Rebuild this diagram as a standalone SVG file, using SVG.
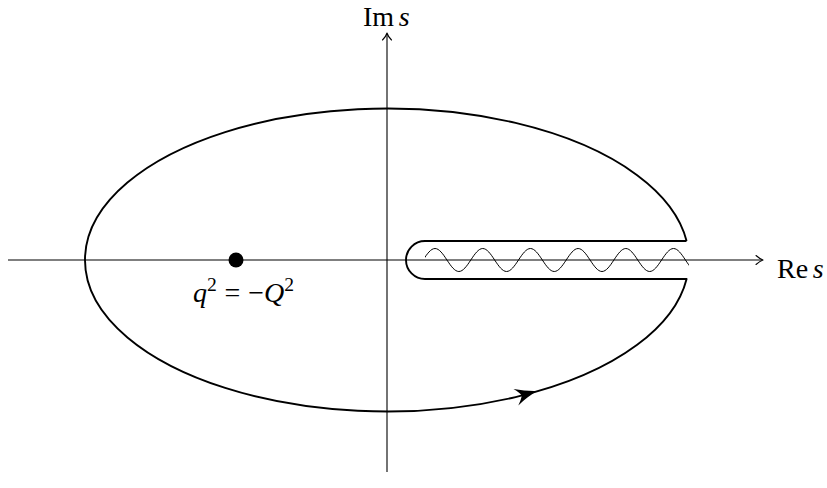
<svg xmlns="http://www.w3.org/2000/svg" width="827" height="488" viewBox="0 0 827 488">
<style>
.axis{fill:none;stroke:#000;stroke-width:1.1}
.tip{fill:none;stroke:#000;stroke-width:1.1;stroke-linecap:round;stroke-linejoin:round}
.contour{fill:none;stroke:#000;stroke-width:1.9;stroke-linejoin:round}
.wave{fill:none;stroke:#000;stroke-width:1}
.lbl{font-family:"Liberation Serif","Times New Roman",serif;font-size:28px;fill:#000}
.it{font-style:italic}
</style>
<defs>
<path id="stealth" d="M0,0 C-7,1.8 -14,4.5 -22,8.5 Q-17,3 -16,0 Q-17,-3 -22,-8.5 C-14,-4.5 -7,-1.8 0,0 Z" fill="#000"/>
<clipPath id="cutclip"><rect x="425" y="240" width="264" height="40"/></clipPath>
</defs>
<rect width="827" height="488" fill="#fff"/>
<g id="connectors">
<path class="axis" d="M8,260 H762"/>
<path class="tip" d="M756,255.5 Q760,259 763,260 Q760,261 756,264.5"/>
<path class="axis" d="M387,472 V34"/>
<path class="tip" d="M382.5,40 Q386,36.5 387,33 Q388,36.5 391.5,40"/>
</g>
<g id="contour">
<path class="contour" d="M686.6,241 L425,241 A19,19 0 0 0 425,279 L686.6,279 A302,151.5 0 1 1 686.6,241"/>
<use href="#stealth" transform="translate(537,391) rotate(-16.5)"/>
</g>
<g id="branch-cut">
<path class="wave" clip-path="url(#cutclip)" d="M423.1,260 c3.889,-5.891 7.733,-11.5 11.925,-11.5 s8.036,5.609 11.925,11.5 s7.733,11.5 11.925,11.5 s8.036,-5.609 11.925,-11.5 s7.733,-11.5 11.925,-11.5 s8.036,5.609 11.925,11.5 s7.733,11.5 11.925,11.5 s8.036,-5.609 11.925,-11.5 s7.733,-11.5 11.925,-11.5 s8.036,5.609 11.925,11.5 s7.733,11.5 11.925,11.5 s8.036,-5.609 11.925,-11.5 s7.733,-11.5 11.925,-11.5 s8.036,5.609 11.925,11.5 s7.733,11.5 11.925,11.5 s8.036,-5.609 11.925,-11.5 s7.733,-11.5 11.925,-11.5 s8.036,5.609 11.925,11.5 s7.733,11.5 11.925,11.5 s8.036,-5.609 11.925,-11.5 s7.733,-11.5 11.925,-11.5 s8.036,5.609 11.925,11.5 s7.733,11.5 11.925,11.5 s8.036,-5.609 11.925,-11.5"/>
</g>
<g id="pole">
<circle cx="236" cy="260" r="7.5" fill="#000"/>
<text class="lbl" x="193" y="302"><tspan class="it">q</tspan><tspan font-size="19.6" dy="-11">2</tspan><tspan dy="11" dx="7.8">=</tspan><tspan dx="7.8">−</tspan><tspan class="it">Q</tspan><tspan font-size="19.6" dy="-11">2</tspan></text>
</g>
<g id="label-im">
<text class="lbl" x="363" y="25.5" font-size="27">Im<tspan class="it" dx="4.7">s</tspan></text>
</g>
<g id="label-re">
<text class="lbl" x="777" y="278">Re<tspan class="it" dx="4.7">s</tspan></text>
</g>
</svg>
